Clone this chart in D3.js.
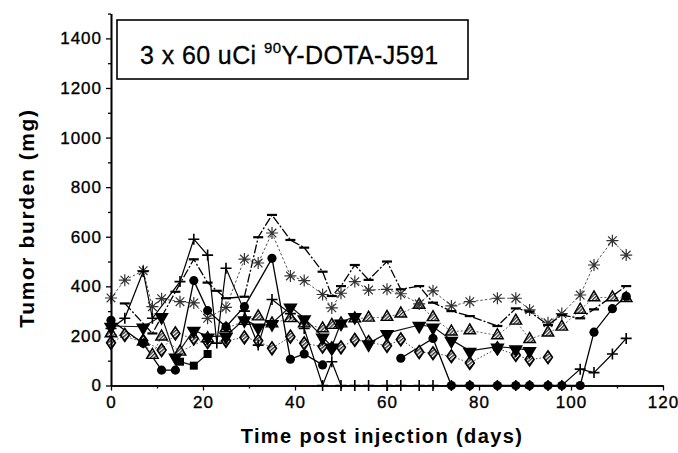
<!DOCTYPE html>
<html>
<head>
<meta charset="utf-8">
<script src="https://cdn.jsdelivr.net/npm/d3@7"></script>
<style>
  body { margin: 0; background: #fff; }
  svg { display: block; font-family: "Liberation Sans", Arial, sans-serif; }
</style>
</head>
<body>
<svg id="chart" width="678" height="453"></svg>
<script>
// tumor burden per mouse, days post injection vs mg
const starDays = [0, 3, 7, 9, 11, 15, 18, 21, 25, 29, 32, 35, 39, 42, 46, 48, 50, 53, 56, 60, 63, 67, 70, 74, 78, 84, 88, 91, 95, 98, 102, 105, 109, 112];
const starMg = [353, 425, 463, 318, 350, 338, 333, 271, 315, 510, 494, 615, 442, 423, 367, 313, 372, 419, 385, 388, 370, 329, 382, 321, 338, 352, 352, 305, 253, 290, 365, 486, 584, 526];

const dashDays = [3, 9, 14, 18, 21, 23, 25, 29, 32, 35, 39, 42, 46, 48, 50, 53, 56, 60, 63, 67, 70, 74, 78, 84, 88, 91, 95, 98, 102, 105, 112];
const dashMg = [331, 210, 378, 509, 415, 382, 352, 358, 598, 688, 587, 556, 459, 361, 401, 486, 426, 500, 388, 401, 334, 300, 280, 240, 311, 298, 244, 284, 271, 307, 401];

const plusDays = [0, 3, 7, 9, 15, 18, 21, 23, 25, 29, 32, 35, 39, 42, 46, 48, 50, 53, 56, 60, 63, 67, 70, 74, 78, 84, 88, 91, 95, 98, 102, 105, 109, 112];
const plusMg = [230, 271, 460, 271, 419, 590, 526, 171, 473, 300, 163, 347, 290, 230, 0, 96, 0, 0, 0, 0, 0, 0, 0, 0, 0, 0, 0, 0, 0, 0, 66, 52, 127, 190];

const circleDays = [0, 7, 11, 14, 18, 21, 25, 29, 35, 39, 42, 46, 50, 63, 70, 74, 78, 84, 88, 91, 95, 98, 102, 105, 109, 112];
const circleMg = [263, 170, 62, 62, 423, 302, 237, 318, 513, 106, 127, 83, null, 110, 190, 0, 0, 0, 0, 0, 0, 0, 0, 215, 310, 360];

const invDays = [0, 7, 11, 14, 18, 21, 25, 29, 32, 35, 39, 42, 46, 48, 50, 53, 56, 60, 67, 70, 74, 78, 84, 88, 91];
const invMg = [240, 237, 280, 116, 224, 197, 200, 267, 237, 251, 318, 271, 197, 157, 253, 280, 170, 211, 244, 237, 184, 140, 157, 150, 143];

const triDays = [0, 7, 9, 11, 15, 21, 25, 29, 32, 35, 39, 42, 46, 48, 50, 53, 56, 60, 63, 67, 70, 74, 78, 84, 88, 91, 95, 98, 102, 105, 109, 112];
const triMg = [210, 177, 123, 197, 136, 190, 230, 260, 278, 250, 271, 250, 230, 244, 250, 270, 273, 276, 290, 325, 275, 217, 222, 202, 261, 187, 213, 237, 305, 355, 355, 352];

const diaDays = [0, 3, 7, 11, 14, 18, 21, 25, 29, 32, 35, 39, 42, 46, 48, 50, 53, 56, 60, 63, 67, 70, 74, 78, 84, 88, 91, 95];
const diaMg = [172, 204, 180, 143, 210, 190, 175, 180, 194, 180, 150, 197, 170, 157, 150, 154, 184, 175, 160, 186, 135, 130, 118, 91, 150, 123, 105, 114];

const squareDays = [15, 18, 21];
const squareMg = [96, 80, 127];

const yTicks = [0, 200, 400, 600, 800, 1000, 1200, 1400];
const xTicks = [0, 20, 40, 60, 80, 100, 120];

const svg = d3.select("#chart");

const x = d3.scaleLinear().domain([0, 120]).range([111, 663]);
const y = d3.scaleLinear().domain([0, 1500]).range([385.5, 13.6]);

// hatch for the grey open symbols
const defs = svg.append("defs");
const hatch = defs.append("pattern")
  .attr("id", "hatch")
  .attr("patternUnits", "userSpaceOnUse")
  .attr("width", 2.5).attr("height", 2.5)
  .attr("patternTransform", "rotate(45)");
hatch.append("rect").attr("width", 2.5).attr("height", 2.5).attr("fill", "#fff");
hatch.append("rect").attr("width", 1.3).attr("height", 2.5).attr("fill", "#333");

function pack(days, vals) {
  return days.map((d, i) => ({ day: d, mg: vals[i] }));
}

const series = [
  { name: "dia", data: pack(diaDays, diaMg), stroke: "#444", dash: "1.5,2", width: 1, mark: "diamond" },
  { name: "tri", data: pack(triDays, triMg), stroke: "#666", dash: "2,2", width: 1, mark: "triangle" },
  { name: "star", data: pack(starDays, starMg), stroke: "#555", dash: "2.5,2", width: 1, mark: "star" },
  { name: "inv", data: pack(invDays, invMg), stroke: "#111", dash: null, width: 1.2, mark: "inv" },
  { name: "square", data: pack(squareDays, squareMg), stroke: "#111", dash: null, width: 1.2, mark: "square" },
  { name: "circle", data: pack(circleDays, circleMg), stroke: "#000", dash: null, width: 1.3, mark: "circle" },
  { name: "dash", data: pack(dashDays, dashMg), stroke: "#000", dash: "9,2,2,2", width: 1.3, mark: "dash" },
  { name: "plus", data: pack(plusDays, plusMg), stroke: "#000", dash: null, width: 1.2, mark: "plus" }
];

const line = d3.line()
  .defined(d => d.mg != null)
  .x(d => x(d.day))
  .y(d => y(d.mg));

const plot = svg.append("g");

series.forEach(s => {
  plot.append("path")
    .datum(s.data)
    .attr("fill", "none")
    .attr("stroke", s.stroke)
    .attr("stroke-width", s.width)
    .attr("stroke-dasharray", s.dash)
    .attr("d", line);
});

function drawMark(g, kind) {
  if (kind === "circle") {
    g.append("path").attr("d", d3.symbol(d3.symbolCircle, 66)).attr("fill", "#000");
  } else if (kind === "square") {
    g.append("path").attr("d", d3.symbol(d3.symbolSquare, 64)).attr("fill", "#000");
  } else if (kind === "inv") {
    g.append("path").attr("d", d3.symbol(d3.symbolTriangle, 90))
      .attr("transform", "rotate(180) translate(0,-1)").attr("fill", "#000");
  } else if (kind === "triangle") {
    g.append("path").attr("d", d3.symbol(d3.symbolTriangle, 58))
      .attr("fill", "url(#hatch)").attr("stroke", "#000").attr("stroke-width", 1.4);
  } else if (kind === "diamond") {
    g.append("path").attr("d", d3.symbol(d3.symbolDiamond, 48))
      .attr("transform", "scale(1.2,1)")
      .attr("fill", "url(#hatch)").attr("stroke", "#000").attr("stroke-width", 1.4);
  } else if (kind === "dash") {
    g.append("line").attr("x1", -5).attr("x2", 5)
      .attr("stroke", "#000").attr("stroke-width", 2.2);
  } else if (kind === "plus") {
    g.append("path").attr("d", "M-5.5,0H5.5M0,-5.5V5.5")
      .attr("stroke", "#000").attr("stroke-width", 1.6);
  } else if (kind === "star") {
    g.append("path").attr("d", "M-6,0H6M0,-6V6M-4.3,-4.3L4.3,4.3M-4.3,4.3L4.3,-4.3")
      .attr("stroke", "#333").attr("stroke-width", 1.2);
  }
}

series.forEach(s => {
  plot.selectAll(null)
    .data(s.data.filter(d => d.mg != null))
    .join("g")
    .attr("transform", d => `translate(${x(d.day)},${y(d.mg)})`)
    .each(function () { drawMark(d3.select(this), s.mark); });
});

// axes
const yAxis = d3.axisLeft(y).tickValues(yTicks).tickSize(5).tickSizeOuter(0).tickFormat(d3.format("d"));
const yMinor = d3.axisLeft(y).tickValues(d3.range(100, 1501, 200)).tickSize(3).tickSizeOuter(0).tickFormat("");
const xAxis = d3.axisBottom(x).tickValues(xTicks).tickSize(5).tickSizeOuter(0).tickFormat(d3.format("d"));
const xMinor = d3.axisBottom(x).tickValues(d3.range(10, 120, 20)).tickSize(3).tickSizeOuter(0).tickFormat("");

function styleAxis(g) {
  g.select(".domain").attr("stroke", "#000").attr("stroke-width", 1.6);
  g.selectAll(".tick line").attr("stroke", "#000").attr("stroke-width", 1.3);
  g.selectAll("text")
    .attr("fill", "#000")
    .attr("stroke", "#000")
    .attr("stroke-width", 0.35)
    .style("font-size", "17px")
    .style("letter-spacing", "1px");
}

svg.append("g").attr("transform", "translate(111,0)").call(yMinor).call(styleAxis);
svg.append("g").attr("transform", "translate(111,0)").call(yAxis).call(styleAxis)
  .selectAll("text").attr("x", -9);
svg.append("g").attr("transform", "translate(0,385.5)").call(xMinor).call(styleAxis);
svg.append("g").attr("transform", "translate(0,385.5)").call(xAxis).call(styleAxis)
  .selectAll("text").attr("y", 10);

// axis titles
svg.append("text")
  .attr("transform", "translate(34,218) rotate(-90)")
  .attr("text-anchor", "middle")
  .style("font-size", "21px")
  .style("font-weight", "bold")
  .style("letter-spacing", "1.6px")
  .text("Tumor burden (mg)");

svg.append("text")
  .attr("x", 382)
  .attr("y", 443)
  .attr("text-anchor", "middle")
  .style("font-size", "20px")
  .style("font-weight", "bold")
  .style("letter-spacing", "1.4px")
  .text("Time post injection (days)");

// label box
svg.append("rect")
  .attr("x", 117).attr("y", 20)
  .attr("width", 351).attr("height", 59)
  .attr("fill", "#fff")
  .attr("stroke", "#000")
  .attr("stroke-width", 1.6);

const label = svg.append("text")
  .attr("x", 140).attr("y", 64)
  .attr("stroke", "#000")
  .attr("stroke-width", 0.3)
  .style("font-size", "25px")
  .style("letter-spacing", "0.4px");
label.append("tspan").text("3 x 60 uCi ");
label.append("tspan").attr("dy", -11).style("font-size", "15px").text("90");
label.append("tspan").attr("dy", 11).text("Y-DOTA-J591");
</script>
</body>
</html>
